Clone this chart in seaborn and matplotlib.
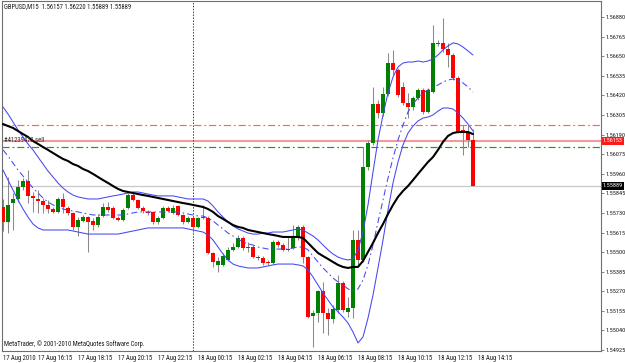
import numpy as np
import pandas as pd
import matplotlib
matplotlib.use("Agg")
import matplotlib.pyplot as plt
import matplotlib.transforms as mtrans
from matplotlib import font_manager
import seaborn as sns

# ---------------- data (GBPUSD M15) ----------------
opens = [1.55765, 1.55677, 1.55788, 1.55812, 1.55882, 1.55918, 1.55830, 1.55812, 1.55800, 1.55777,
         1.55753, 1.55736, 1.55812, 1.55759, 1.55730, 1.55648, 1.55683, 1.55706, 1.55683, 1.55659,
         1.55712, 1.55765, 1.55759, 1.55700, 1.55689, 1.55759, 1.55835, 1.55806, 1.55759, 1.55736,
         1.55736, 1.55677, 1.55700, 1.55759, 1.55730, 1.55771, 1.55718, 1.55677, 1.55700, 1.55648,
         1.55700, 1.55700, 1.55495, 1.55425, 1.55425, 1.55454, 1.55513, 1.55530, 1.55583, 1.55524,
         1.55530, 1.55471, 1.55466, 1.55442, 1.55436, 1.55560, 1.55542, 1.55518, 1.55524, 1.55583,
         1.55648, 1.55471, 1.55125, 1.55143, 1.55272, 1.55143, 1.55108, 1.55160, 1.55319, 1.55149,
         1.55172, 1.55571, 1.55454, 1.56000, 1.56141, 1.56370, 1.56317, 1.56428, 1.56610, 1.56569,
         1.56469, 1.56375, 1.56352, 1.56405, 1.56452, 1.56323, 1.56440, 1.56728, 1.56728, 1.56692,
         1.56657, 1.56522, 1.56217, 1.56199, 1.56157]
highs = [1.55812, 1.55941, 1.55847, 1.55923, 1.55935, 1.55982, 1.55853, 1.55865, 1.55818, 1.55806,
         1.55765, 1.55824, 1.55847, 1.55771, 1.55736, 1.55706, 1.55718, 1.55712, 1.55700, 1.55724,
         1.55788, 1.55794, 1.55771, 1.55712, 1.55759, 1.55847, 1.55853, 1.55812, 1.55771, 1.55747,
         1.55741, 1.55712, 1.55771, 1.55771, 1.55777, 1.55777, 1.55724, 1.55712, 1.55712, 1.55706,
         1.55777, 1.55712, 1.55501, 1.55471, 1.55495, 1.55530, 1.55554, 1.55601, 1.55595, 1.55560,
         1.55542, 1.55483, 1.55477, 1.55454, 1.55571, 1.55571, 1.55554, 1.55589, 1.55659, 1.55659,
         1.55659, 1.55477, 1.55160, 1.55278, 1.55325, 1.55172, 1.55190, 1.55366, 1.55331, 1.55237,
         1.55630, 1.55630, 1.56117, 1.56158, 1.56469, 1.56393, 1.56469, 1.56669, 1.56687, 1.56581,
         1.56499, 1.56434, 1.56417, 1.56463, 1.56463, 1.56463, 1.56833, 1.56745, 1.56874, 1.56728,
         1.56669, 1.56534, 1.56246, 1.56246, 1.56220]
lows = [1.55624, 1.55612, 1.55630, 1.55794, 1.55865, 1.55788, 1.55736, 1.55730, 1.55730, 1.55730,
        1.55730, 1.55730, 1.55730, 1.55718, 1.55630, 1.55595, 1.55677, 1.55501, 1.55630, 1.55648,
        1.55706, 1.55736, 1.55695, 1.55683, 1.55683, 1.55753, 1.55800, 1.55753, 1.55730, 1.55718,
        1.55665, 1.55665, 1.55695, 1.55736, 1.55724, 1.55712, 1.55665, 1.55671, 1.55618, 1.55642,
        1.55695, 1.55489, 1.55413, 1.55383, 1.55419, 1.55448, 1.55507, 1.55524, 1.55513, 1.55501,
        1.55466, 1.55454, 1.55425, 1.55425, 1.55430, 1.55530, 1.55507, 1.55507, 1.55518, 1.55571,
        1.55436, 1.55113, 1.54943, 1.55090, 1.55025, 1.55014, 1.55084, 1.55143, 1.55149, 1.55119,
        1.55113, 1.55413, 1.55442, 1.55982, 1.56129, 1.56287, 1.56299, 1.56417, 1.56540, 1.56411,
        1.56364, 1.56287, 1.56334, 1.56393, 1.56311, 1.56317, 1.56434, 1.56710, 1.56675, 1.56587,
        1.56510, 1.56199, 1.56070, 1.56117, 1.55889]
closes = [1.55677, 1.55777, 1.55812, 1.55882, 1.55918, 1.55830, 1.55818, 1.55800, 1.55777, 1.55753,
          1.55736, 1.55812, 1.55765, 1.55730, 1.55648, 1.55689, 1.55706, 1.55677, 1.55659, 1.55706,
          1.55765, 1.55747, 1.55700, 1.55689, 1.55747, 1.55835, 1.55806, 1.55759, 1.55741, 1.55730,
          1.55677, 1.55700, 1.55759, 1.55741, 1.55759, 1.55718, 1.55677, 1.55700, 1.55648, 1.55700,
          1.55706, 1.55495, 1.55442, 1.55448, 1.55477, 1.55513, 1.55530, 1.55583, 1.55524, 1.55530,
          1.55471, 1.55466, 1.55436, 1.55436, 1.55560, 1.55542, 1.55513, 1.55513, 1.55583, 1.55648,
          1.55471, 1.55119, 1.55143, 1.55272, 1.55143, 1.55108, 1.55166, 1.55319, 1.55160, 1.55172,
          1.55571, 1.55454, 1.56000, 1.56141, 1.56370, 1.56317, 1.56428, 1.56610, 1.56569, 1.56422,
          1.56375, 1.56352, 1.56405, 1.56452, 1.56323, 1.56452, 1.56728, 1.56722, 1.56692, 1.56657,
          1.56522, 1.56205, 1.56199, 1.56158, 1.55889]

ma_line = [1.56252, 1.56240, 1.56229, 1.56211, 1.56193, 1.56176, 1.56152, 1.56135, 1.56117, 1.56100,
           1.56082, 1.56064, 1.56047, 1.56035, 1.56017, 1.56006, 1.55988, 1.55976, 1.55959, 1.55941,
           1.55923, 1.55906, 1.55888, 1.55871, 1.55859, 1.55853, 1.55847, 1.55841, 1.55835, 1.55830,
           1.55824, 1.55818, 1.55812, 1.55806, 1.55800, 1.55794, 1.55788, 1.55783, 1.55777, 1.55771,
           1.55765, 1.55753, 1.55736, 1.55712, 1.55695, 1.55677, 1.55659, 1.55648, 1.55642, 1.55630,
           1.55624, 1.55618, 1.55612, 1.55606, 1.55601, 1.55595, 1.55589, 1.55589, 1.55589, 1.55589,
           1.55583, 1.55554, 1.55524, 1.55495, 1.55477, 1.55460, 1.55442, 1.55425, 1.55413, 1.55407,
           1.55413, 1.55413, 1.55448, 1.55501, 1.55554, 1.55612, 1.55665, 1.55724, 1.55777, 1.55824,
           1.55859, 1.55888, 1.55923, 1.55959, 1.55994, 1.56029, 1.56058, 1.56100, 1.56147, 1.56182,
           1.56199, 1.56205, 1.56205, 1.56205, 1.56193]
bb_upper = [1.56352, 1.56311, 1.56264, 1.56217, 1.56176, 1.56135, 1.56100, 1.56058, 1.56017, 1.55976,
            1.55941, 1.55906, 1.55876, 1.55853, 1.55835, 1.55824, 1.55818, 1.55812, 1.55812, 1.55812,
            1.55818, 1.55824, 1.55830, 1.55835, 1.55841, 1.55847, 1.55853, 1.55853, 1.55847, 1.55841,
            1.55835, 1.55830, 1.55830, 1.55830, 1.55830, 1.55824, 1.55818, 1.55812, 1.55812, 1.55812,
            1.55812, 1.55800, 1.55771, 1.55736, 1.55706, 1.55677, 1.55653, 1.55636, 1.55624, 1.55612,
            1.55606, 1.55606, 1.55612, 1.55612, 1.55618, 1.55618, 1.55618, 1.55624, 1.55630, 1.55636,
            1.55630, 1.55612, 1.55595, 1.55571, 1.55542, 1.55513, 1.55489, 1.55471, 1.55460, 1.55454,
            1.55460, 1.55513, 1.55618, 1.55777, 1.55970, 1.56158, 1.56305, 1.56434, 1.56528, 1.56587,
            1.56610, 1.56616, 1.56616, 1.56622, 1.56616, 1.56622, 1.56634, 1.56657, 1.56687, 1.56710,
            1.56728, 1.56722, 1.56704, 1.56681, 1.56657]
bb_middle = [1.56100, 1.56064, 1.56023, 1.55982, 1.55947, 1.55912, 1.55876, 1.55847, 1.55818, 1.55794,
             1.55777, 1.55765, 1.55753, 1.55747, 1.55741, 1.55736, 1.55730, 1.55724, 1.55718, 1.55718,
             1.55718, 1.55718, 1.55718, 1.55718, 1.55718, 1.55724, 1.55730, 1.55736, 1.55736, 1.55736,
             1.55736, 1.55736, 1.55736, 1.55736, 1.55736, 1.55736, 1.55730, 1.55724, 1.55718, 1.55712,
             1.55712, 1.55700, 1.55683, 1.55659, 1.55636, 1.55612, 1.55595, 1.55577, 1.55560, 1.55548,
             1.55542, 1.55530, 1.55524, 1.55518, 1.55518, 1.55518, 1.55518, 1.55518, 1.55524, 1.55530,
             1.55530, 1.55513, 1.55477, 1.55442, 1.55407, 1.55378, 1.55348, 1.55325, 1.55307, 1.55284,
             1.55272, 1.55284, 1.55336, 1.55425, 1.55542, 1.55677, 1.55806, 1.55935, 1.56053, 1.56158,
             1.56246, 1.56323, 1.56370, 1.56405, 1.56434, 1.56452, 1.56469, 1.56481, 1.56499, 1.56510,
             1.56516, 1.56510, 1.56493, 1.56469, 1.56440]
bb_lower = [1.55982, 1.55923, 1.55865, 1.55806, 1.55753, 1.55706, 1.55665, 1.55642, 1.55630, 1.55630,
            1.55630, 1.55630, 1.55630, 1.55630, 1.55624, 1.55618, 1.55612, 1.55606, 1.55606, 1.55606,
            1.55606, 1.55606, 1.55606, 1.55606, 1.55612, 1.55618, 1.55624, 1.55630, 1.55636, 1.55642,
            1.55642, 1.55642, 1.55642, 1.55642, 1.55642, 1.55642, 1.55642, 1.55636, 1.55630, 1.55624,
            1.55618, 1.55601, 1.55571, 1.55530, 1.55489, 1.55454, 1.55430, 1.55419, 1.55413, 1.55407,
            1.55407, 1.55407, 1.55413, 1.55419, 1.55425, 1.55430, 1.55430, 1.55430, 1.55430, 1.55425,
            1.55419, 1.55395, 1.55354, 1.55307, 1.55260, 1.55219, 1.55178, 1.55149, 1.55119, 1.55084,
            1.55031, 1.54967, 1.55002, 1.55113, 1.55248, 1.55407, 1.55571, 1.55747, 1.55906, 1.56029,
            1.56129, 1.56199, 1.56240, 1.56270, 1.56287, 1.56293, 1.56305, 1.56328, 1.56346, 1.56346,
            1.56340, 1.56317, 1.56287, 1.56252, 1.56211]

price_labels = ["1.56880", "1.56765", "1.56650", "1.56535", "1.56420", "1.56305", "1.56190",
                "1.56075", "1.55960", "1.55845", "1.55730", "1.55615", "1.55500", "1.55385",
                "1.55270", "1.55155", "1.55040", "1.54925"]
time_bars = [0, 7, 15, 23, 31, 39, 47, 55, 63, 71, 79, 87, 95]
time_labels = ["17 Aug 2010", "17 Aug 16:15", "17 Aug 18:15", "17 Aug 20:15", "17 Aug 22:15",
               "18 Aug 00:15", "18 Aug 02:15", "18 Aug 04:15", "18 Aug 06:15", "18 Aug 08:15",
               "18 Aug 10:15", "18 Aug 12:15", "18 Aug 14:15"]
stop_level = 1.56246
order_level = 1.56153
take_level = 1.56115
bid_level = 1.55889
day_separator_bar = 38
header_text = "GBPUSD,M15  1.56157 1.56220 1.55889 1.55889"
order_text = "#41239473 sell"
copyright_text = "MetaTrader, \u00a9 2001-2010 MetaQuotes Software Corp."

# ---------------- style ----------------
sns.set_style("white")
available = {f.name for f in font_manager.fontManager.ttflist}
fam = "DejaVu Sans"
for cand in ["Liberation Sans Narrow", "Roboto Condensed", "Roboto"]:
    if cand in available:
        fam = cand
        break
plt.rcParams["font.family"] = [fam, "DejaVu Sans"]
TXT = "#1a1a1a"

df = pd.DataFrame({"bar": np.arange(len(opens)), "open": opens, "high": highs,
                   "low": lows, "close": closes, "ma": ma_line,
                   "up": bb_upper, "mid": bb_middle, "lo": bb_lower})

W, H = 625, 363
fig = plt.figure(figsize=(W / 100, H / 100), dpi=100)
fig.patch.set_facecolor("white")

# font size chosen so that text widths match the small screen font of the reference
renderer = fig.canvas.get_renderer()
def fit_size(s, target_px, base=10.0):
    t = fig.text(0, 0, s, fontsize=base)
    w = t.get_window_extent(renderer=renderer).width
    t.remove()
    return base * target_px / w

FS = fit_size(header_text, 127)
FS_P = min(FS, fit_size("1.56880", 20))

ax = fig.add_axes([2 / W, 12 / H, 599 / W, 350 / H])
ax.set_facecolor("white")
ax.set_xlim(-0.2, 119.6)
ax.set_ylim(1.549196, 1.569741)

# horizontal levels
ax.axhline(bid_level, color="#c8c8c8", lw=0.9, zorder=1)
ax.axhline(stop_level, color="#ff6a3d", lw=0.85, ls=(0, (6, 2.5, 1.5, 2.5)), zorder=1)
ax.axhline(take_level, color="#1f9a1f", lw=0.85, ls=(0, (6, 2.5, 1.5, 2.5)), zorder=1)
ax.axhline(order_level, color="#f49a9a", lw=1.5, zorder=1)
ax.axvline(day_separator_bar, color="#404040", lw=0.7, ls=(0, (1.5, 1.5)), zorder=1)

# candles
o = df["open"].to_numpy(); c = df["close"].to_numpy()
bull = c >= o
ax.vlines(df["bar"], df["low"], df["high"], color="#8a8a8a", lw=0.75, zorder=2)
ax.bar(df["bar"], np.abs(c - o), bottom=np.minimum(o, c), width=0.62,
       color=np.where(bull, "#008000", "#ff0000"), lw=0, zorder=3)
doji = np.abs(c - o) < 0.00004
ax.hlines(c[doji], df["bar"][doji] - 0.31, df["bar"][doji] + 0.31, color="#303030", lw=0.8, zorder=3)

# indicators
blue = "#4646f2"
sns.lineplot(data=df, x="bar", y="up", ax=ax, color=blue, lw=0.75, zorder=4)
sns.lineplot(data=df, x="bar", y="lo", ax=ax, color=blue, lw=0.75, zorder=4)
sns.lineplot(data=df, x="bar", y="mid", ax=ax, color=blue, lw=0.75,
             linestyle=(0, (6, 3, 1.5, 3)), zorder=4)
sns.lineplot(data=df, x="bar", y="ma", ax=ax, color="black", lw=1.5, zorder=5)
ax.set_xlabel(""); ax.set_ylabel("")

# axes frame
for s in ax.spines.values():
    s.set_color("#6e6e6e"); s.set_linewidth(0.8)

# price scale
ax.yaxis.tick_right()
ax.set_yticks([float(v) for v in price_labels])
ax.set_yticklabels(price_labels)
ax.tick_params(axis="y", length=2.2, width=0.6, pad=0.8, labelsize=FS_P, colors="#6e6e6e", labelcolor=TXT)

# time scale
ax.set_xticks(time_bars)
ax.set_xticklabels(time_labels)
ax.tick_params(axis="x", length=2, width=0.6, pad=1.2, labelsize=FS, colors="#6e6e6e", labelcolor=TXT)
for lab in ax.get_xticklabels():
    lab.set_ha("left")

# price boxes on the scale
tr = mtrans.blended_transform_factory(ax.transAxes, ax.transData)
ax.text(1.003, order_level, "%.5f" % order_level, transform=tr, fontsize=FS_P, color="white",
        va="center", ha="left", zorder=10,
        bbox=dict(boxstyle="square,pad=0.2", facecolor="#ff1a1a", edgecolor="none"), clip_on=False)
ax.text(1.003, bid_level, "%.5f" % bid_level, transform=tr, fontsize=FS_P, color="white",
        va="center", ha="left", zorder=10,
        bbox=dict(boxstyle="square,pad=0.2", facecolor="#000000", edgecolor="none"), clip_on=False)

# texts
ax.text(0.004, 1 - 6 / 350, header_text, transform=ax.transAxes, fontsize=FS, color=TXT,
        va="center", ha="left")
ax.text(0.2, order_level, order_text, fontsize=FS, color="#303030", va="center", ha="left", zorder=6)
ax.text(0.004, 3 / 350, copyright_text, transform=ax.transAxes, fontsize=FS, color=TXT,
        va="bottom", ha="left")

fig.savefig("out.png", dpi=100)
